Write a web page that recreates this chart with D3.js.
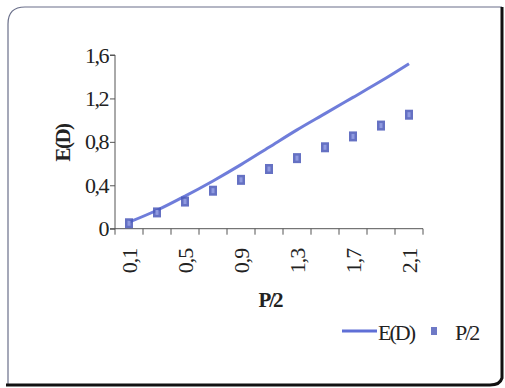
<!DOCTYPE html>
<html><head><meta charset="utf-8">
<script src="https://cdn.jsdelivr.net/npm/d3@7"></script>
<style>
html,body{margin:0;padding:0;background:#fff;}
svg{display:block;}
</style></head>
<body><svg id="c" width="505" height="388"></svg>
<script>
const categories = ["0,1","0,3","0,5","0,7","0,9","1,1","1,3","1,5","1,7","1,9","2,1"];
const labelledCategories = ["0,1","0,5","0,9","1,3","1,7","2,1"];
const edValues = [0.06, 0.17, 0.30, 0.44, 0.59, 0.75, 0.91, 1.06, 1.21, 1.36, 1.52];
const p2Values = [0.05, 0.15, 0.25, 0.35, 0.45, 0.55, 0.65, 0.75, 0.85, 0.95, 1.05];
const yTicks = [0, 0.4, 0.8, 1.2, 1.6];
const yTickLabels = ["0","0,4","0,8","1,2","1,6"];
const seriesNames = ["E(D)","P/2"];

const FONT = "'Liberation Serif', 'DejaVu Serif', serif";
const svg = d3.select("#c");
const lineColor = "#5f6fd6", markColor = "#4a58b8";

// card frame
svg.append("path")
  .attr("d","M8,385 L8,24 Q8,7 25,7 L502,7")
  .attr("fill","none").attr("stroke","#6a6f8a").attr("stroke-width",1.2);
svg.append("path")
  .attr("d","M6,385 L490,385 Q500,385 502,378 L502,7")
  .attr("fill","none").attr("stroke","#111").attr("stroke-width",3);

const x = d3.scaleBand().domain(categories).range([115,423]);
const y = d3.scaleLinear().domain([0,1.6]).range([228.7,55]);

// y axis
const yAxis = d3.axisLeft(y).tickValues(yTicks).tickSize(5).tickPadding(2)
  .tickFormat((d,i)=>yTickLabels[i]);
const gy = svg.append("g").attr("transform","translate(115,0)").call(yAxis);
gy.attr("font-family",FONT).attr("font-size",22);
gy.select(".domain").attr("stroke","#555").attr("d","M-5,55H0V228.7H-5");
gy.selectAll(".tick line").attr("stroke","#555");
gy.selectAll(".tick text").style("font-family",FONT).attr("font-size",22).attr("letter-spacing","-1.5px").attr("fill","#222");

// x axis: ticks at category boundaries
const gx = svg.append("g").attr("transform","translate(0,228.7)");
gx.append("line").attr("x1",115).attr("x2",423).attr("stroke","#555");
const bounds = categories.map(c=>x(c)).concat([x(categories[categories.length-1])+x.bandwidth()]);
gx.selectAll("line.t").data(bounds).join("line").attr("class","t")
  .attr("x1",d=>d).attr("x2",d=>d).attr("y1",0).attr("y2",6).attr("stroke","#555");
gx.selectAll("text").data(labelledCategories).join("text")
  .attr("transform",d=>`translate(${x(d)+x.bandwidth()/2+8},20) rotate(-90)`)
  .style("font-family",FONT).attr("fill","#222")
  .attr("text-anchor","end").attr("font-size",22).attr("letter-spacing","-1px")
  .text(d=>d);

// axis titles
svg.append("text").attr("transform","translate(70,143) rotate(-90)").style("font-family",FONT).attr("fill","#222")
  .attr("text-anchor","middle").attr("font-size",21).attr("font-weight","bold")
  .attr("letter-spacing","-1.5px").text(seriesNames[0]);
svg.append("text").attr("x",270).attr("y",307).attr("text-anchor","middle").style("font-family",FONT).attr("fill","#222")
  .attr("font-size",21).attr("font-weight","bold").attr("letter-spacing","-2px").text(seriesNames[1]);

// E(D) line
const line = d3.line().x((d,i)=>x(categories[i])+x.bandwidth()/2).y(d=>y(d)).curve(d3.curveCatmullRom);
svg.append("path").datum(edValues).attr("d",line).attr("fill","none")
  .attr("stroke",lineColor).attr("stroke-width",3).attr("opacity",0.9);

// P/2 markers
const mk = svg.append("g");
p2Values.forEach((v,i)=>{
  const cx = x(categories[i])+x.bandwidth()/2, cy = y(v);
  mk.append("rect").attr("x",cx-4).attr("y",cy-5).attr("width",8).attr("height",10)
    .attr("fill",markColor).attr("opacity",0.85);
  mk.append("rect").attr("x",cx-1.5).attr("y",cy-2.5).attr("width",3).attr("height",5)
    .attr("fill","#8f9ae0");
});

// legend
svg.append("line").attr("x1",342).attr("x2",377).attr("y1",331).attr("y2",331)
  .attr("stroke",lineColor).attr("stroke-width",3);
svg.append("text").attr("x",378).attr("y",340).attr("font-size",22).style("font-family",FONT).attr("fill","#222")
  .attr("letter-spacing","-2px").text(seriesNames[0]);
svg.append("rect").attr("x",431).attr("y",327).attr("width",6).attr("height",8).attr("fill",markColor).attr("opacity",0.8);
svg.append("text").attr("x",455).attr("y",340).attr("font-size",22).style("font-family",FONT).attr("fill","#222")
  .attr("letter-spacing","-2px").text(seriesNames[1]);
</script></body></html>
